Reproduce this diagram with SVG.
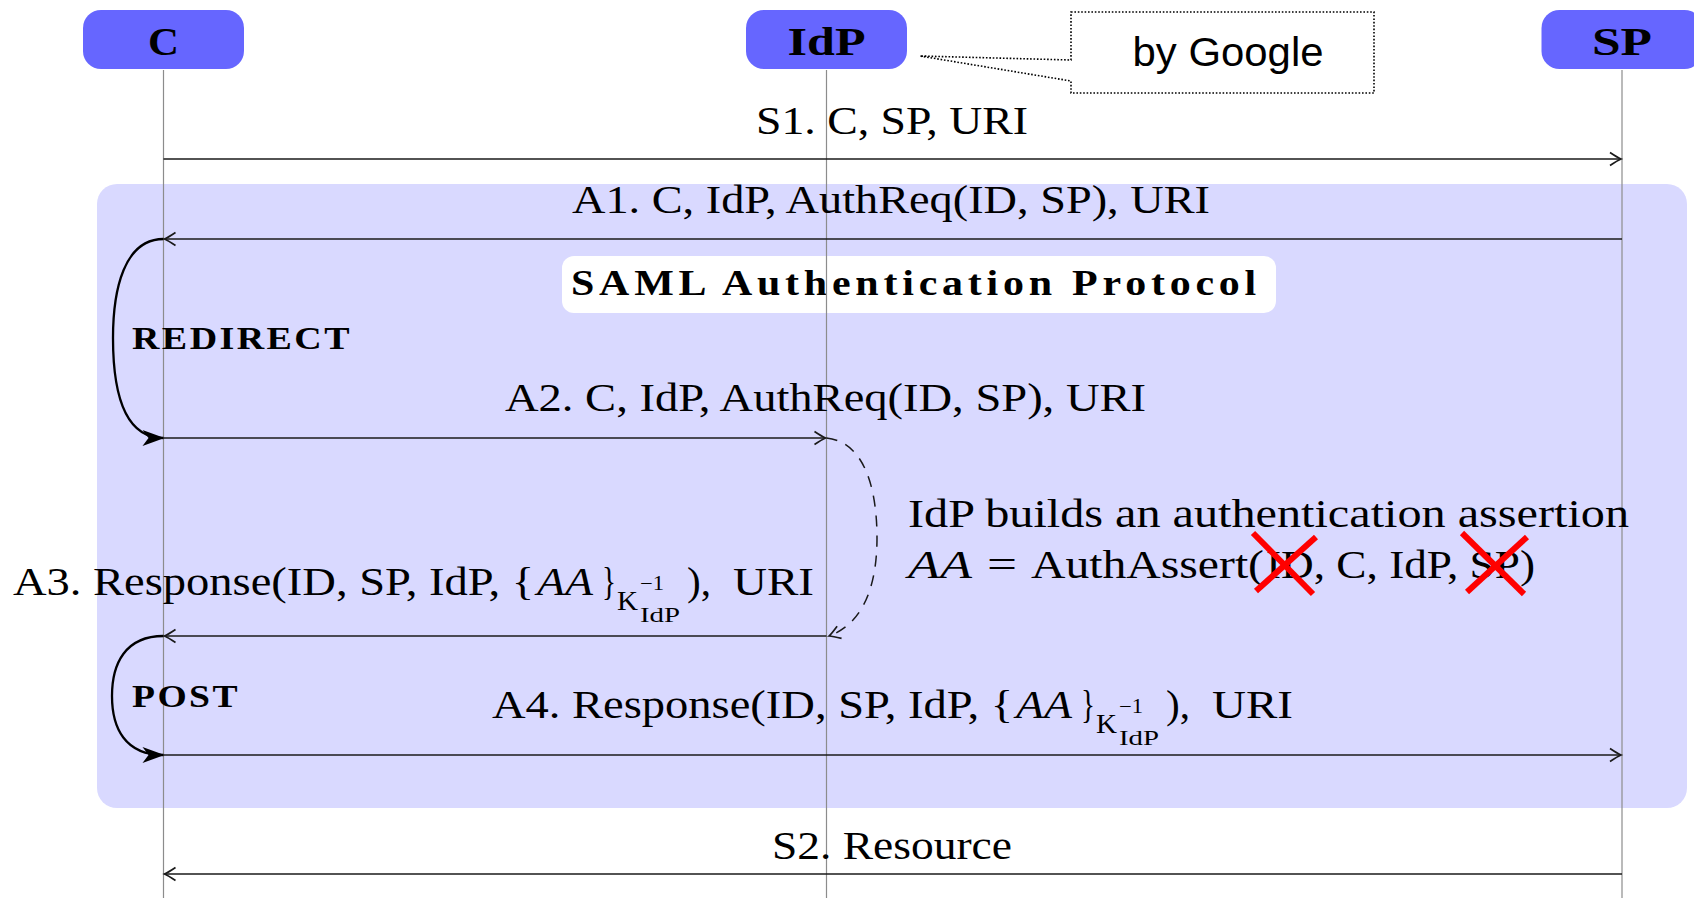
<svg xmlns="http://www.w3.org/2000/svg" width="1694" height="898" viewBox="0 0 1694 898">
<style>
.life{stroke:#8c8c8c;stroke-width:1.2;fill:none}
.msg{stroke:#1a1a1a;stroke-width:1.7;fill:none}
.loop{stroke:#000;stroke-width:2.3;fill:none}
.dash{stroke:#1a1a1a;stroke-width:1.5;fill:none;stroke-dasharray:11 9}
.node rect{fill:#6666FF}
.nlabel{font-family:"Liberation Serif","Times New Roman",serif;font-weight:bold;font-size:40px;text-anchor:middle;fill:#000}
.lbl text{font-family:"Liberation Serif","Times New Roman",serif;font-size:40px;fill:#000}
.bold{font-family:"Liberation Serif","Times New Roman",serif;font-weight:bold;fill:#000}
.cross{stroke:#ff0000;stroke-width:6;stroke-linecap:butt}
</style>
<defs>
<marker id="arr" markerUnits="userSpaceOnUse" viewBox="-14 -8 16 16" markerWidth="16" markerHeight="16" refX="0" refY="0" orient="auto" overflow="visible">
<path d="M-11,-6.5 Q-3.5,-1.5 0,0 Q-3.5,1.5 -11,6.5" fill="none" stroke="#1a1a1a" stroke-width="1.7"/>
</marker>
<marker id="big" markerUnits="userSpaceOnUse" viewBox="-24 -10 26 20" markerWidth="26" markerHeight="20" refX="0" refY="0" orient="auto" overflow="visible">
<path d="M1,0 L-21,-8 L-15,0 L-21,8 Z" fill="#000"/>
</marker>
</defs>

<rect id="region" x="97" y="184" width="1590" height="624" rx="20" fill="#D9D9FF"/>

<g id="saml-label">
<rect x="562" y="256" width="714" height="57" rx="12" fill="#ffffff"/>
<text class="bold" x="571" y="295" font-size="35" letter-spacing="4" textLength="690" lengthAdjust="spacingAndGlyphs">SAML Authentication Protocol</text>
</g>

<g id="lifelines">
<line class="life" x1="163.5" y1="70" x2="163.5" y2="898"/>
<line class="life" x1="826.5" y1="70" x2="826.5" y2="898"/>
<line class="life" x1="1622" y1="70" x2="1622" y2="898"/>
</g>

<g id="node-C" class="node">
<rect x="83" y="10" width="161" height="59" rx="18"/>
<text class="nlabel" x="163.5" y="55" textLength="31" lengthAdjust="spacingAndGlyphs">C</text>
</g>
<g id="node-IdP" class="node">
<rect x="746" y="10" width="161" height="59" rx="18"/>
<text class="nlabel" x="826.5" y="55" textLength="78" lengthAdjust="spacingAndGlyphs">IdP</text>
</g>
<g id="node-SP" class="node">
<rect x="1541.5" y="10" width="161" height="59" rx="18"/>
<text class="nlabel" x="1622" y="55" textLength="60" lengthAdjust="spacingAndGlyphs">SP</text>
</g>

<g id="callout">
<path d="M1071,12 H1374 V93 H1071 V81 L920,56 L1071,60 Z" fill="#ffffff" stroke="#000" stroke-width="1.6" stroke-dasharray="1.6 1.8"/>
<text x="1228" y="66" font-family="'Liberation Sans',Arial,sans-serif" font-size="41" text-anchor="middle" textLength="191" lengthAdjust="spacingAndGlyphs">by Google</text>
</g>

<g id="connectors">
<path id="S1" class="msg" d="M163.5,159 H1621" marker-end="url(#arr)"/>
<path id="A1" class="msg" d="M1622,239 H164.5" marker-end="url(#arr)"/>
<path id="redirect" class="loop" d="M163.5,239 C124,239 113,290 113,338 C113,392 124,438 163.5,438" marker-end="url(#big)"/>
<path id="A2" class="msg" d="M163.5,438 H825.5" marker-end="url(#arr)"/>
<path id="build" class="dash" d="M826.5,438 C866,442 877,492 877,538 C877,588 862,624 829,636" marker-end="url(#arr)"/>
<path id="A3" class="msg" d="M826.5,636 H164.5" marker-end="url(#arr)"/>
<path id="post" class="loop" d="M163.5,636 C125,636 112,664 112,696 C112,728 125,755 163.5,755" marker-end="url(#big)"/>
<path id="A4" class="msg" d="M163.5,755 H1621" marker-end="url(#arr)"/>
<path id="S2" class="msg" d="M1622,874 H164.5" marker-end="url(#arr)"/>
</g>

<g id="labels" class="lbl">
<text x="756" y="134" textLength="272" lengthAdjust="spacingAndGlyphs">S1. C, SP, URI</text>
<text x="572" y="213" textLength="638" lengthAdjust="spacingAndGlyphs">A1. C, IdP, AuthReq(ID, SP), URI</text>
<text x="505" y="411" textLength="641" lengthAdjust="spacingAndGlyphs">A2. C, IdP, AuthReq(ID, SP), URI</text>
<text x="772" y="859" textLength="240" lengthAdjust="spacingAndGlyphs">S2. Resource</text>
</g>

<g id="label-A3" class="lbl">
<text x="13" y="595" textLength="521" lengthAdjust="spacingAndGlyphs">A3. Response(ID, SP, IdP, {</text>
<text x="537" y="595" font-style="italic" textLength="56" lengthAdjust="spacingAndGlyphs">AA</text>
<text x="602" y="595" textLength="14" lengthAdjust="spacingAndGlyphs">}</text>
<text x="617" y="610" style="font-size:28px" textLength="21" lengthAdjust="spacingAndGlyphs">K</text>
<text x="640" y="590" style="font-size:20px" textLength="24" lengthAdjust="spacingAndGlyphs">−1</text>
<text x="640" y="622" style="font-size:20px" textLength="40" lengthAdjust="spacingAndGlyphs">IdP</text>
<text x="687" y="595" textLength="24" lengthAdjust="spacingAndGlyphs">),</text>
<text x="733" y="595" textLength="81" lengthAdjust="spacingAndGlyphs">URI</text>
</g>

<g id="label-A4" class="lbl" transform="translate(479,123)">
<text x="13" y="595" textLength="521" lengthAdjust="spacingAndGlyphs">A4. Response(ID, SP, IdP, {</text>
<text x="537" y="595" font-style="italic" textLength="56" lengthAdjust="spacingAndGlyphs">AA</text>
<text x="602" y="595" textLength="14" lengthAdjust="spacingAndGlyphs">}</text>
<text x="617" y="610" style="font-size:28px" textLength="21" lengthAdjust="spacingAndGlyphs">K</text>
<text x="640" y="590" style="font-size:20px" textLength="24" lengthAdjust="spacingAndGlyphs">−1</text>
<text x="640" y="622" style="font-size:20px" textLength="40" lengthAdjust="spacingAndGlyphs">IdP</text>
<text x="687" y="595" textLength="24" lengthAdjust="spacingAndGlyphs">),</text>
<text x="733" y="595" textLength="81" lengthAdjust="spacingAndGlyphs">URI</text>
</g>

<g id="loop-labels">
<text class="bold" x="132" y="349" font-size="31" letter-spacing="2" textLength="220" lengthAdjust="spacingAndGlyphs">REDIRECT</text>
<text class="bold" x="132" y="707" font-size="31" letter-spacing="2" textLength="108" lengthAdjust="spacingAndGlyphs">POST</text>
</g>

<g id="assertion" class="lbl">
<text x="908" y="527" textLength="721" lengthAdjust="spacingAndGlyphs">IdP builds an authentication assertion</text>
<text x="908" y="578" font-style="italic" textLength="64" lengthAdjust="spacingAndGlyphs">AA</text>
<text x="987" y="578" textLength="30" lengthAdjust="spacingAndGlyphs">=</text>
<text x="1031" y="578" textLength="233" lengthAdjust="spacingAndGlyphs">AuthAssert(</text>
<text x="1266" y="578" textLength="269" lengthAdjust="spacingAndGlyphs">ID, C, IdP, SP)</text>
</g>

<g id="crosses">
<line class="cross" x1="1253" y1="533" x2="1313" y2="594"/>
<line class="cross" x1="1316" y1="537" x2="1256" y2="591"/>
<line class="cross" x1="1462" y1="533" x2="1524" y2="594"/>
<line class="cross" x1="1527" y1="537" x2="1467" y2="592"/>
</g>
</svg>
